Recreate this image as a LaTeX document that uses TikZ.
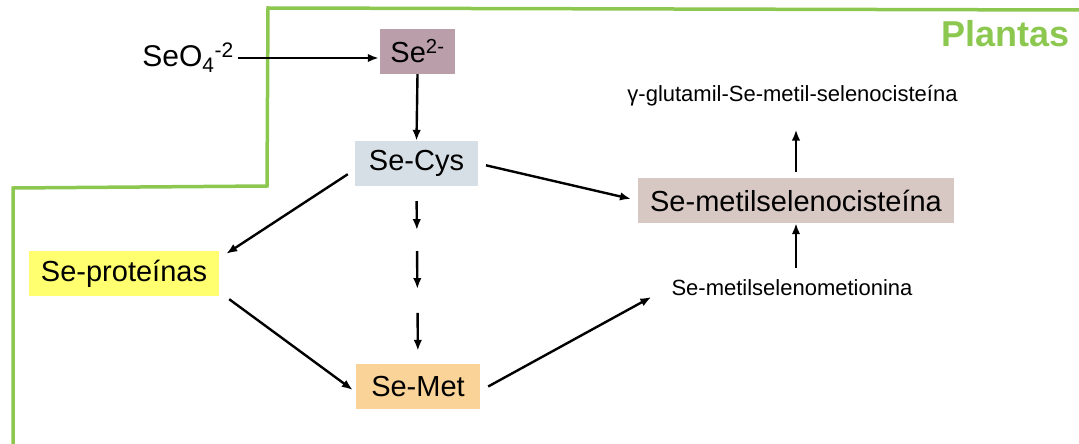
\documentclass[tikz,border=0pt]{standalone}
\usepackage{fontspec}
\setmainfont{Liberation Sans}
\usetikzlibrary{arrows.meta,calc}

\definecolor{plantgreen}{RGB}{140,200,80}
\definecolor{seion}{RGB}{186,158,170}
\definecolor{secysfill}{RGB}{214,223,230}
\definecolor{seprotfill}{RGB}{255,255,112}
\definecolor{semetfill}{RGB}{250,211,152}
\definecolor{semetilfill}{RGB}{216,200,195}

\tikzset{
    box/.style={inner sep=0pt, minimum height=45pt, font=\fontsize{29}{32}\selectfont},
    plain/.style={inner sep=0pt, font=\fontsize{30}{33}\selectfont},
    small/.style={inner sep=0pt, font=\fontsize{22}{26}\selectfont},
    title/.style={inner sep=0pt, text=plantgreen, font=\fontsize{36}{40}\selectfont\bfseries},
    flow/.style={-{Latex[length=11pt,width=8.5pt]}, line width=2.4pt},
}

\begin{document}
\begin{tikzpicture}[x=1pt, y=-1pt]
    \useasboundingbox (0,0) rectangle (1079,444);
    \draw[plantgreen, line width=3.5pt] (13,444) -- (13,188) -- (267,186) -- (268,8) -- (1079,10);

    \node[title, anchor=east] (plantas) at (1070,34) {Plantas};
    \node[plain, anchor=east] (seo) at (234,58) {SeO\textsubscript{4}\textsuperscript{-2}};
    \node[box, fill=seion, minimum width=75pt] (se) at (417.5,51.5) {Se\textsuperscript{2-}};
    \node[box, fill=secysfill, minimum width=123pt] (secys) at (416.5,163.5) {Se-Cys};
    \node[box, fill=seprotfill, minimum width=190pt] (prot) at (124,273.5) {Se-proteínas};
    \node[box, fill=semetfill, minimum width=124pt] (semet) at (418,386.5) {Se-Met};
    \node[box, fill=semetilfill, minimum width=316pt] (metil) at (796,200.5) {Se-metilselenocisteína};
    \node[small] (smet) at (792,288) {Se-metilselenometionina};
    \node[small] (gglu) at (792.5,96) {γ-glutamil-Se-metil-selenocisteína};

    \draw[flow, shorten <=4pt, shorten >=1pt] (seo.east) -- (seo.east -| se.west);
    \draw[flow] (se.south) -- (secys.north);
    \draw[flow, shorten <=8pt, shorten >=7pt] (secys.east) -- (metil.west);
    \draw[flow] ([xshift=-7pt,yshift=12pt]secys.south west) -- ([xshift=7pt,yshift=-3pt]prot.north east);
    \draw[flow] ([xshift=10pt,yshift=-3pt]prot.south east) -- ([xshift=-3pt,yshift=-3.5pt]semet.west);
    \draw[flow] ([xshift=8pt]semet.east) -- ([xshift=-20pt,yshift=-9pt]smet.west);
    \draw[flow, shorten <=12pt] (metil.south |- smet.north) -- (metil.south);
    \draw[flow, shorten <=6pt, shorten >=23pt] (metil.north) -- (metil.north |- gglu.south);
    \foreach \a/\b in {0.084/0.247, 0.365/0.579, 0.713/0.927}
        \draw[flow] ($(secys.south)!\a!(semet.north)$) -- ($(secys.south)!\b!(semet.north)$);
\end{tikzpicture}
\end{document}
